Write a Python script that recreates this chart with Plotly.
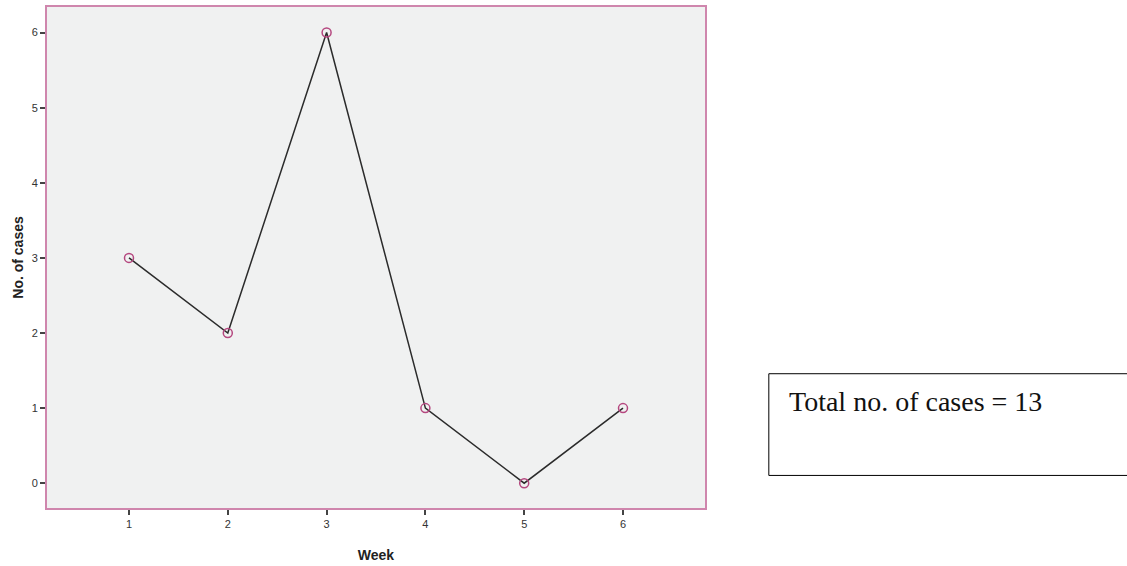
import plotly.graph_objects as go

weeks = [1, 2, 3, 4, 5, 6]
cases = [3, 2, 6, 1, 0, 1]
total_label = "Total no. of cases = 13"

fig = go.Figure()
fig.add_trace(go.Scatter(
    x=weeks, y=cases, mode="lines+markers",
    line=dict(color="#2b2b2b", width=1.5),
    marker=dict(symbol="circle-open", size=9, color="#b5477f", line=dict(width=1.5, color="#b5477f")),
    showlegend=False,
))

axis_common = dict(
    showgrid=False, zeroline=False, showline=True, mirror=True,
    linecolor="#cf86ad", linewidth=2, ticks="outside", ticklen=5, tickwidth=1.5,
    tickcolor="#444444", tickfont=dict(family="Arial", size=11, color="#333333"),
)
fig.update_xaxes(range=[0.17, 6.83], tickvals=weeks, ticktext=[str(w) for w in weeks],
                 title=dict(text="<b>Week</b>", font=dict(family="Arial", size=14, color="#222222"), standoff=21),
                 **axis_common)
fig.update_yaxes(range=[-0.33, 6.34], tickvals=[0, 1, 2, 3, 4, 5, 6],
                 title=dict(text="<b>No. of cases</b>", font=dict(family="Arial", size=14, color="#222222"), standoff=5),
                 **axis_common)

fig.add_shape(type="rect", xref="paper", yref="paper",
              x0=1.097, x1=1.645, y0=0.065, y1=0.268,
              line=dict(color="#000000", width=1), fillcolor="white")
fig.add_annotation(text=total_label, xref="paper", yref="paper", x=1.125, y=0.212,
                   xanchor="left", yanchor="middle", showarrow=False,
                   font=dict(family="Liberation Serif", size=28, color="#111111"))

fig.update_layout(
    width=1127, height=566,
    margin=dict(l=47, r=422, t=5, b=54),
    plot_bgcolor="#f0f1f1", paper_bgcolor="white",
)
fig.write_html("out.html", config={"displayModeBar": False},
               post_script="document.body.style.margin='0';document.body.style.overflow='hidden';")
